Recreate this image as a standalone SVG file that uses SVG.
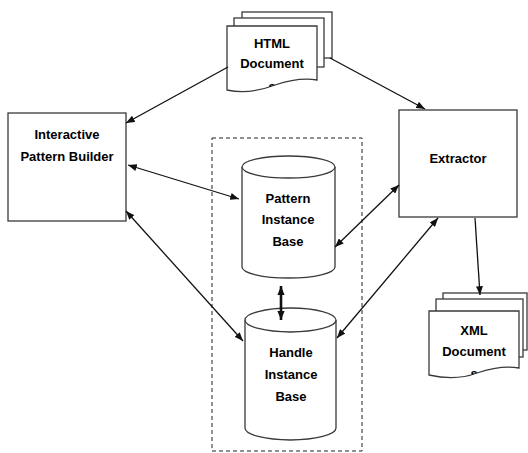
<svg xmlns="http://www.w3.org/2000/svg" width="528" height="453" viewBox="0 0 528 453">
<style>
.shape{fill:#fff;stroke:#3a3a3a;stroke-width:1.3}
.lbl{font-family:"Liberation Sans",Arial,sans-serif;font-weight:bold;font-size:13px;fill:#000;text-anchor:middle}
.conn{fill:none;stroke:#111;stroke-width:1.3}
.thick{fill:none;stroke:#111;stroke-width:2.6}
</style>
<defs>
<marker id="ah" viewBox="0 0 10 8" refX="10" refY="4" markerWidth="9" markerHeight="7" markerUnits="userSpaceOnUse" orient="auto-start-reverse">
<path d="M0,0 L10,4 L0,8 Z" fill="#111"/>
</marker>
<marker id="ahb" viewBox="0 0 10 8" refX="10" refY="4" markerWidth="9" markerHeight="8" markerUnits="userSpaceOnUse" orient="auto-start-reverse">
<path d="M0,0 L10,4 L0,8 Z" fill="#111"/>
</marker>
<clipPath id="clipHtml"><path d="M227,26 H317 V80 C305,78 290,80 275,85 C262,90 245,94 227,90 Z"/></clipPath>
<clipPath id="clipXml"><path d="M429,311 H519 V368 C507,366 492,368 477,373 C464,378 447,379 429,375 Z"/></clipPath>
</defs>
<rect width="528" height="453" fill="#fff"/>

<g id="instance-group">
<rect x="212" y="138" width="150" height="313" fill="none" stroke="#222" stroke-width="1" stroke-dasharray="4,3"/>
</g>

<g id="html-doc">
<rect class="shape" x="242" y="12" width="90" height="46"/>
<rect class="shape" x="234" y="18" width="90" height="49"/>
<path class="shape" d="M227,26 H317 V80 C305,78 290,80 275,85 C262,90 245,94 227,90 Z"/>
<text class="lbl" x="272" y="47.5">HTML</text>
<text class="lbl" x="272" y="68">Document</text>
<text class="lbl" x="272" y="91" clip-path="url(#clipHtml)">s</text>
</g>

<g id="pattern-builder">
<rect class="shape" x="8" y="113" width="118" height="108"/>
<text class="lbl" x="67" y="138.5">Interactive</text>
<text class="lbl" x="67" y="160.5">Pattern Builder</text>
</g>

<g id="extractor">
<rect class="shape" x="399" y="110" width="118" height="107"/>
<text class="lbl" x="458" y="162.5">Extractor</text>
</g>

<g id="pattern-instance-base">
<path class="shape" d="M242,167 V267 A46.5,11 0 0 0 335,267 V167"/>
<ellipse class="shape" cx="288.5" cy="167" rx="46.5" ry="11"/>
<text class="lbl" x="288" y="202.5">Pattern</text>
<text class="lbl" x="288" y="223.5">Instance</text>
<text class="lbl" x="288" y="245.5">Base</text>
</g>

<g id="handle-instance-base">
<path class="shape" d="M245,320 V428 A45.5,12 0 0 0 336,428 V320"/>
<ellipse class="shape" cx="290.5" cy="320" rx="45.5" ry="12"/>
<text class="lbl" x="291" y="356.5">Handle</text>
<text class="lbl" x="291" y="378.5">Instance</text>
<text class="lbl" x="291" y="400.5">Base</text>
</g>

<g id="xml-doc">
<rect class="shape" x="443" y="293" width="84" height="57"/>
<rect class="shape" x="436" y="299" width="87" height="58"/>
<path class="shape" d="M429,311 H519 V368 C507,366 492,368 477,373 C464,378 447,379 429,375 Z"/>
<text class="lbl" x="474" y="334.5">XML</text>
<text class="lbl" x="474" y="355.5">Document</text>
<text class="lbl" x="474" y="378" clip-path="url(#clipXml)">s</text>
</g>

<g id="connectors">
<line class="conn" x1="228" y1="67" x2="126" y2="123" marker-end="url(#ah)"/>
<line class="conn" x1="330" y1="58" x2="425" y2="109" marker-end="url(#ah)"/>
<line class="conn" x1="128" y1="165" x2="239" y2="199" marker-start="url(#ah)" marker-end="url(#ah)"/>
<line class="conn" x1="126" y1="211" x2="243" y2="341" marker-start="url(#ah)" marker-end="url(#ah)"/>
<line class="conn" x1="399" y1="185" x2="335" y2="247" marker-start="url(#ah)" marker-end="url(#ah)"/>
<line class="conn" x1="438" y1="218" x2="337" y2="338" marker-start="url(#ah)" marker-end="url(#ah)"/>
<line class="conn" x1="475" y1="218" x2="480" y2="295" marker-end="url(#ah)"/>
<line class="thick" x1="281" y1="286" x2="281" y2="320" marker-start="url(#ahb)" marker-end="url(#ahb)"/>
</g>
</svg>
